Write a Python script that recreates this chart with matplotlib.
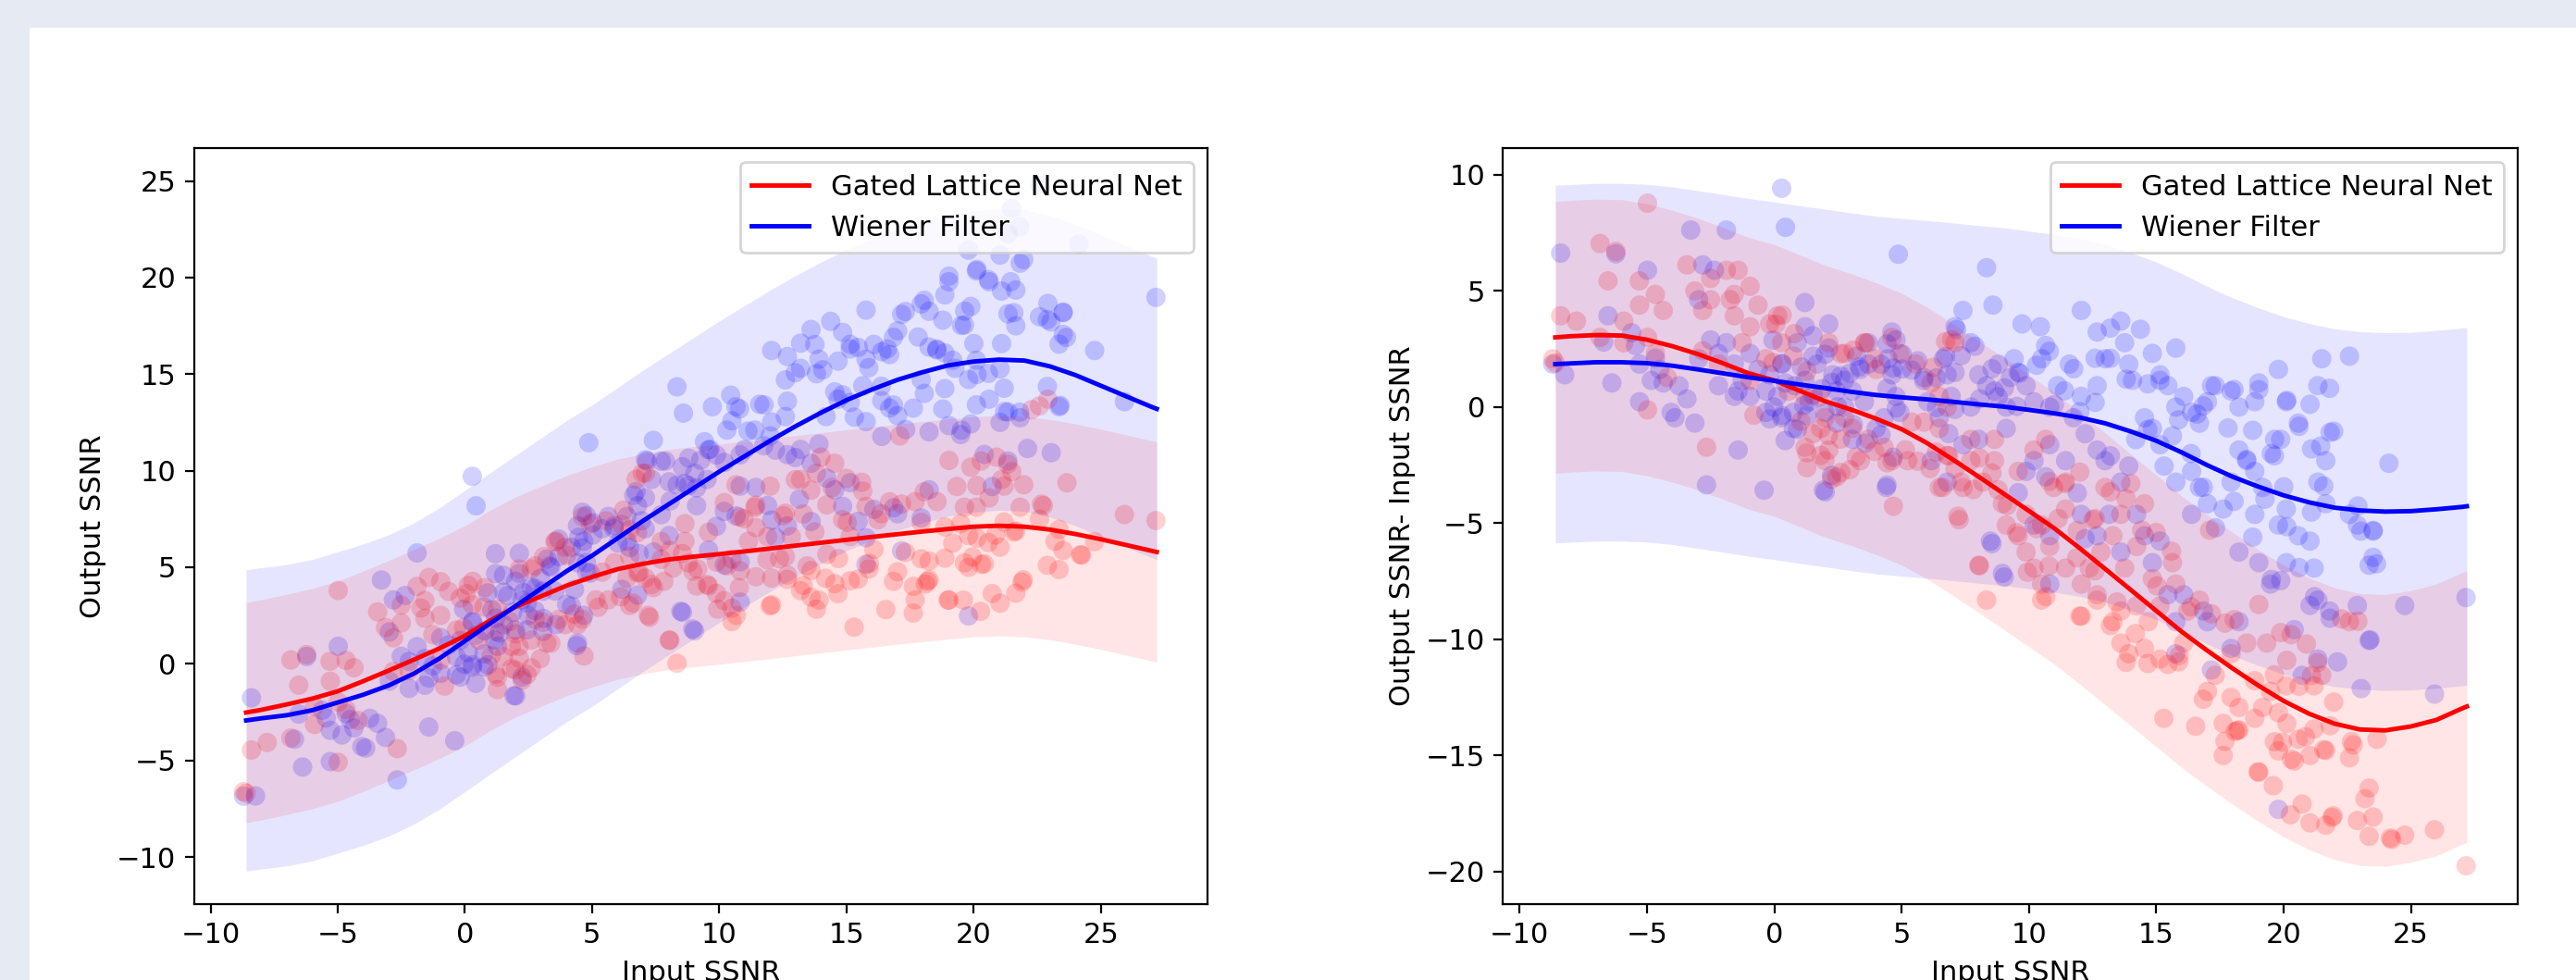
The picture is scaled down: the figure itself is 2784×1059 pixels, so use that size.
import matplotlib
matplotlib.use("Agg")
import matplotlib.pyplot as plt
import numpy as np
from matplotlib.patches import Rectangle

# scatter data: (input SSNR, output SSNR - input SSNR)
wiener_pts = [
    (-8.39, 6.63), (-8.7, 1.85), (-8.23, 1.39), (-6.7, 2.8), (-6.53, 3.93), (-6.22, 6.6), (-6.38, 1.04),
    (-5.6, 3.2), (-5.45, 2.65), (-5.29, 1.85), (-4.83, 1.15), (-4.36, 1.04), (-4.05, -0.23), (-3.9, -0.46),
    (-5.29, 0.23), (-4.67, 2.1), (-4.5, 1.62), (-4.98, 5.89), (-3.28, 7.62), (-2.81, 6.12), (-2.35, 5.89),
    (-2.66, -3.35), (-3.43, 0.35), (-3.74, 0.92), (-3.12, -0.69), (-2.97, 2.08), (-2.97, 4.62), (-2.5, 2.89),
    (-2.19, 2.31), (-1.88, 7.62),
    (-1.88, 2.77), (-1.57, 1.85), (-1.26, 1.15), (-0.95, 2.31), (-0.64, 1.62), (-0.33, 0.69), (-0.02, 0.0),
    (0.29, -0.46), (0.75, -0.92), (0.9, 2.77), (1.21, 3.46), (0.29, 1.85), (0.44, 1.04), (-0.18, 1.39),
    (-1.42, 0.69), (-2.19, 0.92), (-1.57, 0.46), (-0.95, 0.46), (-0.33, -0.23), (0.29, 9.42), (0.44, 7.74),
    (-1.42, -1.85), (-0.4, -3.58), (1.21, 1.15), (1.37, 0.23), (0.75, -0.23), (1.06, 1.73), (1.52, 2.19),
    (0.13, 0.46),
    (2.14, 3.58), (2.14, 2.54), (1.68, 1.85), (2.3, 1.39), (2.76, 1.15), (3.07, 0.69), (3.54, 0.23),
    (2.76, 0.0), (1.99, -0.23), (2.45, -0.69), (3.23, 2.19), (3.69, 2.77), (4.47, 2.08), (4.62, 1.39),
    (4.78, 0.46), (4.31, -0.46), (4.93, -0.23), (4.0, -0.92), (3.07, -1.39), (1.93, -3.58), (4.4, -3.46),
    (4.78, 2.89), (4.62, 3.23), (4.87, 6.58), (3.38, 1.62), (2.45, 0.69),
    (5.86, 1.15), (6.02, 0.23), (6.48, -0.46), (6.79, 1.39), (7.1, 3.46), (7.41, 4.16), (7.72, 2.77),
    (8.03, 1.39), (8.34, 0.92), (8.65, 0.69), (8.8, 1.85), (8.34, 6.0), (8.59, 4.39), (6.17, -2.31),
    (6.79, -3.23), (7.41, -1.62), (8.03, -1.39), (7.72, 0.0), (6.95, 0.46), (9.11, 0.0), (9.11, -0.92),
    (8.49, -5.77), (8.96, -7.16), (6.64, 2.08), (9.27, 1.27),
    (9.73, 3.58), (10.45, 3.46), (10.66, 2.65), (10.5, 2.08), (9.42, 2.08), (9.89, 0.92), (10.2, 0.23),
    (10.82, 0.0), (11.13, 0.92), (11.59, 1.85), (12.06, 4.16), (12.68, 3.23), (12.99, 2.08), (12.68, 0.92),
    (12.06, 0.46), (11.75, -0.46), (12.21, -1.15), (12.68, -1.85), (12.99, -2.31), (11.44, -2.31),
    (10.82, -1.62), (10.2, -2.31), (9.89, -2.77), (9.58, -3.69), (10.66, -3.0), (10.82, -5.54), (10.2, -5.08),
    (12.06, -4.62), (12.21, -5.66), (12.68, -5.54), (13.15, -4.62), (10.82, -7.62), (11.9, -3.7),
    (13.61, 3.7), (13.76, 2.77), (13.92, 1.85), (14.07, 1.15), (14.38, 3.35), (14.85, 2.31), (15.15, 1.39),
    (15.46, 0.92), (15.77, 2.54), (15.77, 0.0), (16.08, 0.46), (16.39, -0.23), (16.7, -0.69), (17.01, 0.23),
    (17.17, 0.92), (14.54, -0.46), (14.85, -0.92), (15.15, -1.62), (15.31, -2.54), (15.77, -3.23),
    (16.39, -2.77), (16.7, -3.46), (17.01, -4.16), (16.39, -4.62), (13.92, -2.54), (13.61, -3.23),
    (14.23, -4.62), (14.54, -5.54), (15.15, -5.77), (13.61, -6.24), (14.85, -6.7), (15.46, -8.08),
    (16.08, -8.08), (16.86, -8.78), (17.01, -9.24), (15.77, -9.24), (15.77, -10.62), (17.17, -11.32),
    (17.32, 0.92), (17.94, 0.69), (18.25, 0.0), (18.87, 0.23), (19.03, 1.04), (19.8, 1.62), (20.11, 0.23),
    (20.58, -0.69), (21.04, 0.12), (21.35, 0.92), (18.25, -1.85), (18.56, -2.31), (18.87, -2.77),
    (19.18, -3.46), (19.65, -1.39), (20.11, -4.39), (20.58, -5.54), (21.04, -5.77), (19.8, -5.08),
    (18.87, -4.62), (17.94, -3.23), (17.63, -4.39), (18.25, -6.24), (19.03, -6.7), (19.49, -7.62),
    (20.11, -6.7), (21.2, -6.93), (21.35, -8.31), (21.04, -8.54), (18.25, -9.24), (20.42, -9.58),
    (19.8, -17.32), (17.94, -10.39),
    (21.5, 2.08), (22.59, 2.19), (21.81, 0.81), (21.97, -1.04), (21.66, -2.31), (21.35, -3.23), (21.66, -4.16),
    (22.59, -4.62), (22.9, -5.08), (23.52, -5.31), (23.52, -6.47), (23.36, -6.81), (22.9, -8.54),
    (23.36, -10.05), (23.05, -12.12), (24.14, -2.42), (24.76, -8.54), (25.93, -12.36), (27.17, -8.2),
    (21.35, -10.85), (22.12, -10.97), (21.81, -8.78), (20.73, -11.55),
    # denser part of the cloud
    (13.2, 2.1), (12.6, 2.1), (11.76, 1.65), (10.8, 2.4), (10.3, 1.8), (11.4, 0.7), (12.6, 0.2),
    (14.2, -1.4), (14.67, -0.97), (15.64, -1.24), (16.37, -2.0), (16.85, -3.45), (18.06, -4.06),
    (18.79, -5.6), (17.33, -5.2), (16.61, -0.3), (15.15, 1.15), (13.2, 3.4), (14.67, 1.0), (15.88, -0.55),
    (16.85, 0.05), (17.82, -0.9), (18.55, -2.25), (19.27, -3.97), (19.52, -2.0), (18.79, -1.0),
    (9.58, 1.5), (11.0, 0.1), (12.0, -0.2), (13.2, -2.1), (13.82, 1.2), (18.06, 0.76), (19.03, 0.75),
    (1.2, 4.5), (-0.05, 2.88), (0.31, 1.88), (0.79, 0.92), (1.16, 0.07), (1.52, 0.51), (1.88, 0.79),
    (2.25, 1.06), (2.61, 1.34), (2.97, 1.46), (3.34, 1.73), (3.7, 1.85), (4.19, 1.84), (4.67, 1.68),
    (5.03, 1.64), (5.4, 1.59), (5.88, 1.27), (6.37, -0.02), (6.85, -1.14), (7.09, -0.1), (4.43, 0.8),
    (4.79, -0.04), (2.0, 2.27), (1.52, 3.07), (2.49, 0.02), (3.1, -0.75), (3.58, -1.55), (4.19, -1.2),
    (4.67, -2.16), (4.43, -3.36), (0.31, -0.36), (-0.18, -0.51), (0.43, -1.44), (2.0, -3.65), (2.25, -2.94),
    (1.28, -0.37), (0.91, -0.96), (8.55, -5.88), (9.03, -7.32),
    (7.16, 3.34), (7.88, 2.62), (7.34, 2.21), (7.1, 1.49), (8.07, 0.36), (8.55, 1.65), (9.04, 0.83),
    (9.52, 0.03), (9.64, 1.46), (8.79, 0.44), (6.73, 2.18), (6.37, 1.26), (5.64, 1.99), (5.03, 2.28),
    (4.43, 2.72),
    (20.13, 0.29), (20.61, -0.83), (21.1, -1.8), (21.46, -1.68), (21.83, -1.09), (19.89, -1.39),
    (19.64, -2.1), (20.01, -3.43), (21.1, -4.52), (21.58, -3.4), (22.92, -4.26), (23.52, -5.34),
    (23.04, -5.34), (23.65, -6.75), (20.13, -5.15), (20.61, -6.91), (21.22, -8.16), (21.83, -9.09),
    (23.4, -10.02), (19.52, -7.42), (19.89, -7.47),
]

glnn_pts = [
    (-8.39, 3.93), (-8.7, 2.08), (-6.84, 7.04), (-6.22, 6.7), (-6.53, 5.43), (-7.77, 3.7), (-6.84, 3.0),
    (-8.6, 1.9),
    (-5.3, 5.43), (-4.98, 8.78), (-4.67, 4.85), (-4.36, 4.16), (-5.29, 4.39), (-5.91, 3.7), (-4.98, 3.0),
    (-5.91, 2.77), (-4.67, 2.31), (-4.98, -0.12), (-3.43, 6.12), (-2.81, 4.16), (-3.12, 5.0), (-4.2, 1.27),
    (-2.66, -1.73),
    (-2.5, 5.54), (-1.88, 5.89), (-1.42, 5.89), (-2.5, 4.62), (-1.73, 4.62), (-1.57, 3.93), (-0.95, 3.46),
    (-1.26, 2.77), (-0.33, 2.08), (0.13, 3.93), (-2.19, 1.85), (-0.8, -0.35), (-1.57, 4.85), (-0.95, 5.2),
    (-0.64, 4.39), (-0.18, 3.58), (0.29, 2.77), (0.75, 2.19), (1.21, 0.46), (1.52, -1.15), (1.83, -0.92),
    (1.21, -1.73), (1.83, -2.08), (-0.95, 1.15), (-2.81, 2.42),
    (2.14, 2.77), (2.76, 2.31), (3.54, 2.77), (4.0, 1.62), (4.62, 3.0), (4.93, 2.31), (2.76, -0.46),
    (3.07, -0.92), (3.69, -1.39), (4.31, -1.73), (4.62, -2.31), (3.38, -2.31), (2.14, -1.85), (2.45, -3.0),
    (4.68, -4.27), (5.24, -2.31), (1.99, -2.31),
    (5.55, 1.85), (6.17, 1.04), (6.48, 0.46), (6.79, 0.0), (7.1, 2.77), (6.79, -2.08), (7.1, -2.66),
    (7.72, -2.31), (7.41, -3.46), (8.19, -3.23), (8.65, -2.31), (8.65, -1.39), (7.72, -1.39), (6.48, -3.46),
    (7.26, -4.85), (8.03, -6.81), (8.34, -8.31), (8.96, -4.16), (9.11, -5.08), (6.48, -0.92),
    (9.58, -5.54), (9.89, -6.24), (10.2, -6.93), (10.5, -7.62), (10.82, -6.0), (11.44, -6.93), (12.06, -7.62),
    (12.37, -6.93), (12.83, -6.24), (12.06, -9.0), (13.3, -9.24), (10.97, -3.46), (11.44, -4.39),
    (9.89, -4.62), (10.5, -5.08), (9.58, -2.77), (10.2, -1.85), (10.66, -1.39), (11.44, -3.23), (11.9, -5.31),
    (12.52, -4.85), (12.99, -3.46), (12.68, -8.31), (10.5, -8.31),
    (13.92, -10.62), (13.61, -10.16), (14.54, -10.39), (15.46, -11.08), (15.15, -10.85), (16.08, -10.16),
    (15.9, -10.7), (16.24, -8.78), (16.7, -8.31), (17.17, -8.9), (13.61, -8.78), (14.23, -8.56),
    (15.15, -8.56), (12.68, -8.08), (15.3, -13.4), (16.55, -13.74), (17.01, -12.24), (14.69, -9.24),
    (13.76, -6.93), (14.23, -6.0), (14.85, -7.39), (15.77, -7.62), (13.61, -4.62), (13.3, -5.54),
    (14.54, -4.16), (15.0, -5.4), (15.6, -6.2), (14.0, -3.3),
    (17.32, -11.55), (17.94, -12.5), (18.25, -12.93), (18.87, -11.78), (19.18, -12.93), (19.49, -12.24),
    (20.11, -12.0), (19.8, -13.16), (18.87, -13.4), (18.25, -13.9), (17.63, -13.62), (19.0, -15.7),
    (19.6, -16.3), (19.96, -14.43), (20.42, -15.24), (21.04, -15.0), (19.8, -14.8), (20.58, -14.3),
    (21.2, -13.86), (21.04, -17.9), (18.56, -10.16), (19.34, -10.16), (17.94, -10.62), (17.63, -15.0),
    (18.1, -13.97), (20.73, -17.09), (20.27, -17.55), (20.9, -10.2), (20.3, -9.8),
    (27.17, -19.75), (25.93, -18.2), (24.76, -18.43), (24.2, -18.55), (23.36, -18.48), (22.9, -17.8),
    (23.2, -16.86), (21.9, -17.67), (21.66, -18.0), (22.59, -15.1), (21.66, -14.78), (22.74, -14.55),
    (23.67, -14.3), (22.59, -9.24), (22.28, -9.12), (21.5, -11.55), (21.97, -12.7), (23.36, -16.4),
    (21.2, -12.0),
    # denser part of the cloud
    (17.1, -5.3), (19.03, -8.5), (17.7, -9.3), (18.06, -9.15), (15.64, -6.7), (14.43, -5.3), (13.2, -3.65),
    (13.82, -3.95), (12.0, -2.8), (11.4, -3.3), (10.8, -3.2), (12.6, -4.8), (15.03, -7.7), (16.37, -8.6),
    (10.79, -6.84), (12.0, -9.0), (13.2, -9.41), (13.82, -10.99), (14.67, -11.04), (17.7, -14.39),
    (18.19, -13.92), (19.03, -15.72), (16.85, -12.58), (15.88, -10.97), (14.18, -9.75), (13.46, -8.39),
    (12.6, -7.05), (11.88, -6.49), (11.15, -4.8), (10.3, -5.23), (9.94, -7.11), (10.67, -8.16),
    (3.58, 2.77), (3.94, 2.09), (3.1, 2.45), (2.61, 2.3), (0.31, 3.96), (0.79, 3.16), (0.06, 3.57),
    (1.28, 1.55), (1.76, 0.43), (2.0, -0.45), (2.13, -1.22), (2.61, -1.38), (3.22, -2.15), (3.94, -1.91),
    (4.43, -2.4), (2.97, -2.7), (2.61, -2.82), (1.28, -1.97), (1.28, -2.61), (2.25, -3.1), (5.4, -0.65),
    (5.88, -0.65), (6.37, -1.94), (6.85, -2.1), (7.34, -3.23), (7.82, -3.55), (8.06, -2.19), (8.55, -2.84),
    (8.79, -3.56), (9.15, -4.24), (9.52, -5.41), (7.21, -4.7), (8.06, -6.83), (5.15, -1.84), (5.64, -2.33),
    (6.12, -2.65), (6.61, -3.46), (-0.05, 1.92), (0.55, 0.68), (1.04, -0.61), (6.24, 1.71), (6.73, 2.82),
    (6.97, 2.9),
    (22.92, -9.22), (19.89, -9.71), (21.1, -11.56), (21.34, -11.0), (20.61, -12.02), (21.83, -13.72),
    (19.64, -11.53), (20.13, -10.9), (22.67, -14.4), (20.13, -13.62), (20.86, -14.19), (19.64, -14.41),
    (20.31, -15.16), (21.58, -14.75), (23.52, -17.65), (24.25, -18.62), (21.95, -17.6),
]

# fitted curves
fit_x = [-8.6, -8, -7, -6, -5, -4, -3, -2, -1, 0, 1, 2, 3, 4, 5, 6, 7, 8, 9, 10, 11, 12, 13,
         14, 15, 16, 17, 18, 19, 20, 21, 22, 23, 24, 25, 26, 27, 27.2]
glnn_out = [-2.52, -2.38, -2.1, -1.8, -1.42, -0.9, -0.35, 0.22, 0.8, 1.45, 2.25, 2.95, 3.5, 4.05,
            4.5, 4.9, 5.18, 5.4, 5.55, 5.68, 5.82, 5.97, 6.12, 6.27, 6.42, 6.57, 6.71, 6.85, 6.98,
            7.1, 7.15, 7.1, 6.95, 6.72, 6.45, 6.15, 5.85, 5.79]
wiener_out = [-2.93, -2.82, -2.66, -2.4, -2.0, -1.6, -1.12, -0.5, 0.28, 1.18, 2.1, 3.0, 3.9, 4.8,
              5.6, 6.5, 7.4, 8.25, 9.1, 9.95, 10.75, 11.55, 12.3, 13.0, 13.65, 14.2, 14.7, 15.1,
              15.45, 15.65, 15.75, 15.7, 15.4, 14.95, 14.4, 13.85, 13.3, 13.2]
glnn_gain = [3.0, 3.05, 3.1, 3.08, 2.9, 2.62, 2.28, 1.88, 1.45, 1.15, 0.7, 0.25, -0.1, -0.5, -0.95,
             -1.55, -2.25, -2.98, -3.72, -4.47, -5.22, -6.08, -6.97, -7.87, -8.77, -9.67, -10.48,
             -11.25, -11.98, -12.65, -13.2, -13.63, -13.88, -13.92, -13.75, -13.47, -12.98, -12.89]
wiener_gain = [1.85, 1.88, 1.93, 1.93, 1.89, 1.78, 1.62, 1.45, 1.28, 1.13, 0.97, 0.82, 0.66, 0.52,
               0.42, 0.33, 0.23, 0.12, 0.02, -0.12, -0.27, -0.45, -0.7, -1.05, -1.45, -1.95, -2.5,
               -3.0, -3.42, -3.8, -4.1, -4.33, -4.45, -4.5, -4.48, -4.4, -4.3, -4.27]
# half widths of the shaded bands
band_out = {"glnn": 5.7, "wiener": 7.8}
band_gain = {"glnn": 5.85, "wiener": 7.7}

plt.rcParams['font.size'] = 11
fig = plt.figure(figsize=(13.92, 5.295), dpi=200, facecolor='#e6eaf3')
fig.patches.append(Rectangle((32 / 2784, 0), 1, 1 - 30 / 1059, transform=fig.transFigure,
                             facecolor='white', edgecolor='none', zorder=-10))

ax1 = fig.add_axes([0.0753, 0.0774, 0.3935, 0.7715])
ax2 = fig.add_axes([0.5835, 0.0774, 0.3939, 0.7715])

fx = np.array(fit_x)
wx, wg = np.array(wiener_pts).T
gx, gg = np.array(glnn_pts).T

panels = [
    (ax1, wg + wx, gg + gx, glnn_out, wiener_out, band_out, "Output SSNR", (-12.44, 26.7)),
    (ax2, wg, gg, glnn_gain, wiener_gain, band_gain, "Output SSNR- Input SSNR", (-21.4, 11.15)),
]
for ax, wy, gy, g_fit, w_fit, band, ylab, ylim in panels:
    ax.scatter(wx, wy, s=57, color='b', alpha=0.18, edgecolors='none')
    ax.scatter(gx, gy, s=57, color='r', alpha=0.18, edgecolors='none')
    g_fit = np.array(g_fit)
    w_fit = np.array(w_fit)
    ax.fill_between(fx, w_fit - band["wiener"], w_fit + band["wiener"], color='b', alpha=0.1, lw=0)
    ax.fill_between(fx, g_fit - band["glnn"], g_fit + band["glnn"], color='r', alpha=0.1, lw=0)
    ax.plot(fx, g_fit, color='r', lw=1.75, label='Gated Lattice Neural Net')
    ax.plot(fx, w_fit, color='b', lw=1.75, label='Wiener Filter')
    ax.set_xlim(-10.65, 29.2)
    ax.set_ylim(*ylim)
    ax.set_xticks([-10, -5, 0, 5, 10, 15, 20, 25])
    ax.set_xlabel("Input SSNR")
    ax.set_ylabel(ylab)
    ax.legend(loc='upper right')

fig.savefig("out.png", dpi=200, facecolor=fig.get_facecolor())
